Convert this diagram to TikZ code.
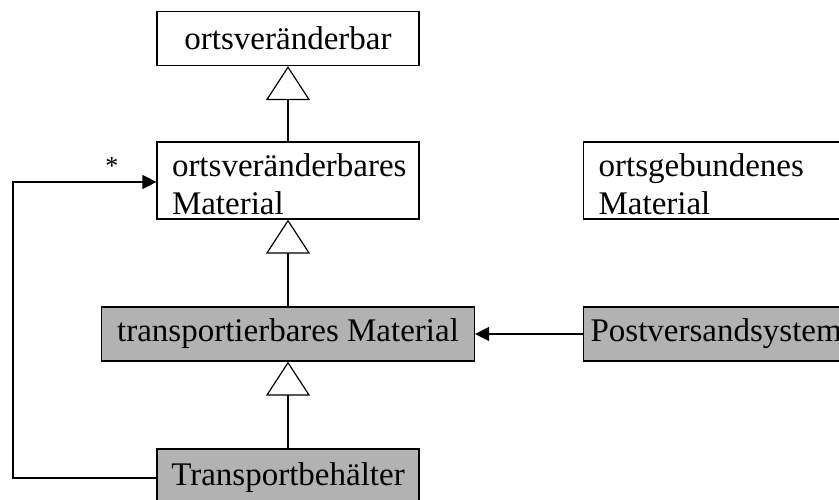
\documentclass[tikz,border=0pt]{standalone}
\usepackage{fontspec}
\setmainfont{Liberation Serif}
\usetikzlibrary{arrows.meta}
\begin{document}
\begin{tikzpicture}[
  x=0.5pt, y=-0.5pt,
  font=\fontsize{16.5}{19.3}\selectfont,
  cls/.style={rectangle, draw, line width=0.6pt, inner sep=0pt, minimum height=27pt},
  twoline/.style={cls, minimum width=131pt, minimum height=38.5pt, text width=116pt, text height=15.3pt, align=left, inner xsep=7.5pt},
  grey/.style={fill=black!30},
  inherit/.style={-{Triangle[open, length=17pt, width=22pt, fill=white]}, line width=0.6pt},
  assoc/.style={-{Triangle[length=7pt, width=7pt]}, line width=0.6pt}
]
\useasboundingbox (0,0) rectangle (839,499);
\clip (0,0) rectangle (839,499);

\node[cls, minimum width=131pt] (top) at (288,38.5) {ortsveränderbar};
\node[twoline] (mat) at (288,180.5) {ortsveränderbares\\Material};
\node[twoline, anchor=west] (geb) at (583,180.5) {ortsgebundenes\\Material};
\node[cls, grey, minimum width=186.5pt] (trans) at (288,334) {transportierbares Material};
\node[cls, grey, anchor=west, inner xsep=3.5pt] (post) at (583,334) {Postversandsystem};
\node[cls, grey, minimum width=131pt, minimum height=29pt] (tb) at (288,478) {Transportbehälter};

\coordinate (bend) at (13,182);

\draw[inherit] (mat) -- (top);
\draw[inherit] (trans) -- (mat);
\draw[inherit] (tb) -- (trans);
\draw[assoc] (post) -- (trans);
\draw[assoc] (tb.west) -| (bend) -- (bend -| mat.west) node[pos=0.69, above, font=\fontsize{13}{15}\selectfont] {*};
\end{tikzpicture}
\end{document}
